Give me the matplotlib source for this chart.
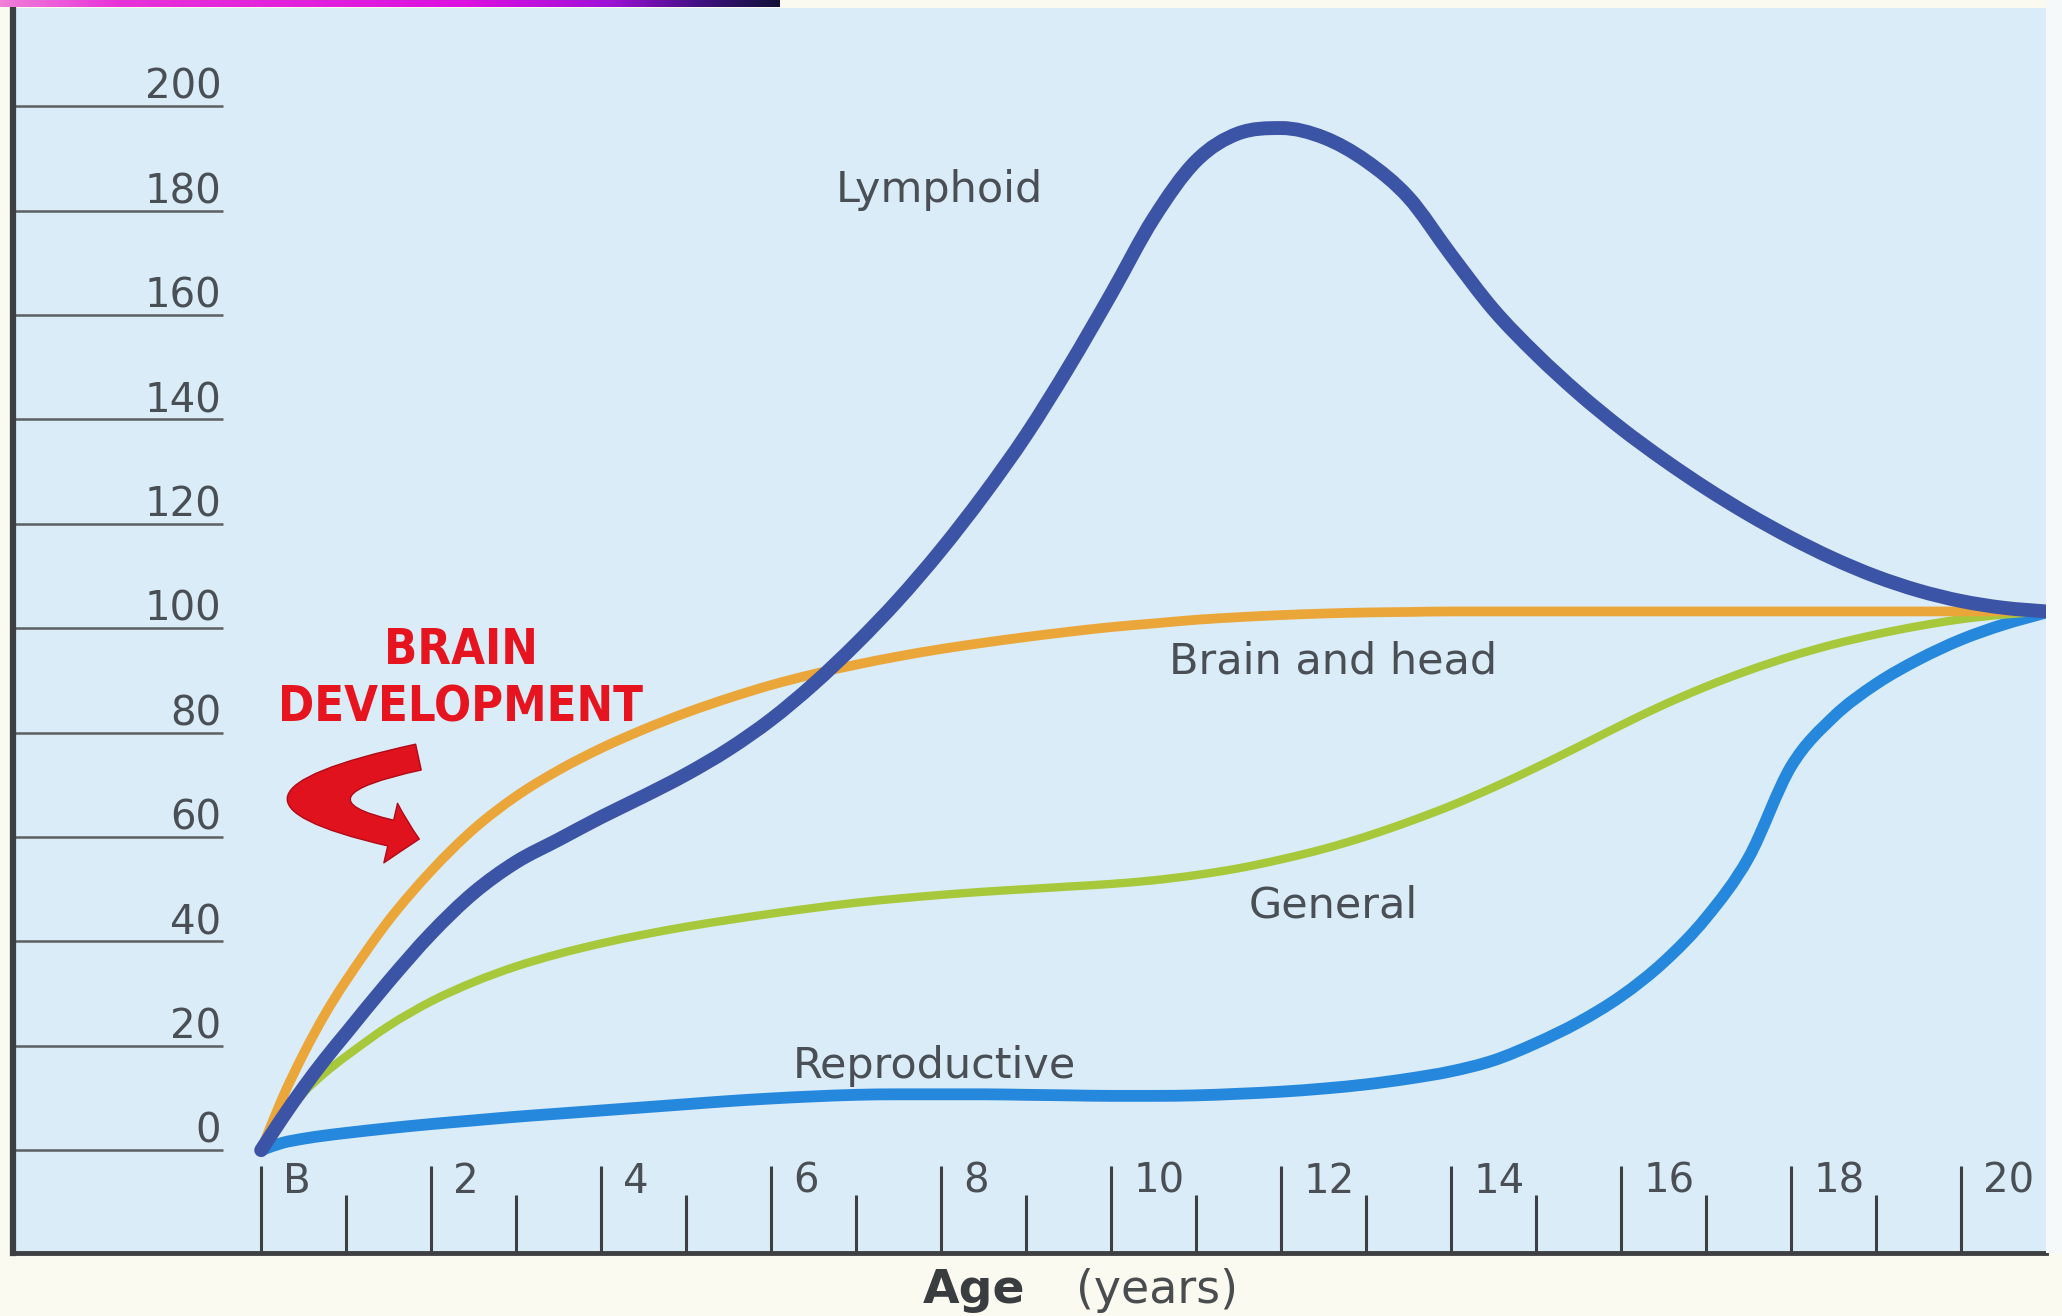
import numpy as np
import matplotlib
matplotlib.use('Agg')
import matplotlib.pyplot as plt
from matplotlib import font_manager
from matplotlib.patches import FancyArrowPatch, ArrowStyle, PathPatch, Rectangle
from matplotlib.path import Path
from matplotlib.colors import LinearSegmentedColormap

ages = [0, 0.25, 0.5, 0.75, 1, 1.5, 2, 2.5, 3, 3.5, 4, 4.5, 5, 5.5, 6, 6.5, 7, 7.5,
        8, 8.5, 9, 9.5, 10, 10.5, 11, 11.5, 12, 12.5, 13, 13.5, 14, 14.5, 15, 15.5,
        16, 16.5, 17, 17.5, 18, 18.5, 19, 19.5, 20, 20.5, 21]

lymphoid = [0, 6.2, 12, 17.4, 22.4, 32.3, 41.5, 49.3, 55.2, 59.5, 63.8, 67.8, 72,
            76.8, 82.5, 89.3, 97, 105.5, 115, 125.5, 137, 150, 164, 178.5, 189.5,
            194.8, 195.8, 194, 189.5, 182.5, 171.5, 161, 152.5, 145, 138.3, 132.3,
            126.8, 121.8, 117.3, 113.3, 109.9, 107.2, 105.2, 103.9, 103.2]

brain_head = [0, 10, 18.5, 26, 32.5, 44, 53.5, 61.5, 67.8, 72.8, 77, 80.6, 83.8,
              86.6, 89.1, 91.2, 93, 94.6, 96, 97.2, 98.3, 99.3, 100.2, 100.9, 101.6,
              102.1, 102.5, 102.8, 103, 103.1, 103.2, 103.2, 103.2, 103.2, 103.2,
              103.2, 103.2, 103.2, 103.2, 103.2, 103.2, 103.2, 103.2, 103.2, 103.2]

general = [0, 5.8, 11, 14.8, 18, 23.8, 28.5, 32.2, 35.2, 37.6, 39.6, 41.3, 42.8,
           44.1, 45.3, 46.4, 47.4, 48.2, 48.9, 49.5, 50, 50.5, 51, 51.7, 52.7, 54,
           55.7, 57.7, 60.1, 62.9, 66, 69.5, 73.3, 77.3, 81.4, 85.3, 88.8, 91.9,
           94.6, 96.9, 98.8, 100.4, 101.7, 102.6, 103.2]

reproductive = [0, 1.4, 2.2, 2.8, 3.3, 4.2, 5, 5.7, 6.4, 7, 7.6, 8.2, 8.8, 9.4, 9.9,
                10.3, 10.6, 10.7, 10.7, 10.7, 10.6, 10.5, 10.4, 10.4, 10.5, 10.8,
                11.2, 11.8, 12.6, 13.7, 15.1, 17.2, 20.5, 24.5, 29.5, 36, 44.5, 56,
                73.5, 83, 89.3, 94, 97.8, 100.7, 103]

y_ticks = [0, 20, 40, 60, 80, 100, 120, 140, 160, 180, 200]
x_major = [0, 2, 4, 6, 8, 10, 12, 14, 16, 18, 20]
x_major_labels = ['B', '2', '4', '6', '8', '10', '12', '14', '16', '18', '20']
x_minor = [1, 3, 5, 7, 9, 11, 13, 15, 17, 19]


def smooth_path(x, y):
    # cubic bezier segments through the read points (clamped central slopes)
    x = np.asarray(x, float)
    y = np.asarray(y, float)
    h = np.diff(x)
    d = np.diff(y) / h
    m = np.zeros_like(x)
    m[0], m[-1] = d[0], d[-1]
    for k in range(1, len(x) - 1):
        if d[k - 1] * d[k] > 0:
            c = (y[k + 1] - y[k - 1]) / (x[k + 1] - x[k - 1])
            lim = 3 * min(abs(d[k - 1]), abs(d[k]))
            m[k] = np.sign(c) * min(abs(c), lim)
    verts = [(x[0], y[0])]
    codes = [Path.MOVETO]
    for k in range(len(x) - 1):
        verts += [(x[k] + h[k] / 3, y[k] + m[k] * h[k] / 3),
                  (x[k + 1] - h[k] / 3, y[k + 1] - m[k + 1] * h[k] / 3),
                  (x[k + 1], y[k + 1])]
        codes += [Path.CURVE4] * 3
    return Path(verts, codes)


W, H = 2062, 1316
fig = plt.figure(figsize=(W / 100, H / 100), dpi=100, facecolor='#fbfaf1')
fig.add_artist(Rectangle((2046 / W, 1 - 1253 / H), 16 / W, 1253 / H,
                         transform=fig.transFigure, facecolor='#f6f9fa',
                         edgecolor='none'))

# plot area in pixels: left 13, right 2046, top 8, bottom 1253
ax = fig.add_axes([13 / W, 1 - 1253 / H, (2046 - 13) / W, (1253 - 8) / H])
ax.set_facecolor('#daecf7')
ax.set_xlim(-2.92, 21.0)
ax.set_ylim(-19.7, 218.8)

axis_col = '#3d3f42'
for s in ['top', 'right']:
    ax.spines[s].set_visible(False)
ax.spines['left'].set_linewidth(4.5)
ax.spines['left'].set_color(axis_col)
ax.spines['bottom'].set_linewidth(3.5)
ax.spines['bottom'].set_color(axis_col)

ax.set_xticks(x_major)
ax.set_xticks(x_minor, minor=True)
ax.set_yticks([])
ax.tick_params(axis='x', which='major', direction='in', length=63, width=2.2,
               color=axis_col, labelbottom=False)
ax.tick_params(axis='x', which='minor', direction='in', length=42, width=2.2,
               color=axis_col, labelbottom=False)

text_col = '#4a4f55'

# short guide lines and labels on the left
ax.hlines(y_ticks, -2.92, -0.45, color='#5b6064', lw=1.8)
for v in y_ticks:
    ax.text(-0.47, v + 1.4, str(v), ha='right', va='baseline', fontsize=29,
            color=text_col)

for x, lab in zip(x_major, x_major_labels):
    ax.text(x + 0.26, -2.2, lab, ha='left', va='top', fontsize=29, color=text_col)

# curves
series = [(reproductive, '#2688dc', 8.5, 3),
          (general, '#a7c83a', 6, 4),
          (brain_head, '#eba63a', 7, 5),
          (lymphoid, '#3c54a6', 10, 6)]
for vals, col, lw, z in series:
    ax.add_patch(PathPatch(smooth_path(ages, vals), facecolor='none', edgecolor=col,
                           lw=lw, capstyle='round', joinstyle='round', zorder=z))

# curve names
lab_kw = dict(ha='center', va='baseline', fontsize=31, color=text_col, zorder=7)
ax.text(7.98, 181.6, 'Lymphoid', **lab_kw)
ax.text(12.61, 91.4, 'Brain and head', **lab_kw)
ax.text(12.61, 44.6, 'General', **lab_kw)
ax.text(7.92, 13.8, 'Reproductive', **lab_kw)

# red callout; pick a narrow bold face when one is installed
red_props = font_manager.FontProperties(family='Open Sans', weight='bold')
for f in font_manager.fontManager.ttflist:
    narrow = ('Narrow' in f.name or 'Condensed' in f.name
              or f.stretch in ('condensed', 'semi-condensed'))
    if narrow and f.weight in (700, 'bold') and f.style == 'normal':
        red_props = font_manager.FontProperties(fname=f.fname)
        break

red = '#e5141f'
t1 = ax.text(2.35, 93.1, 'BRAIN', ha='center', va='baseline',
             fontproperties=red_props, color=red, zorder=8)
t2 = ax.text(2.35, 82.2, 'DEVELOPMENT', ha='center', va='baseline',
             fontproperties=red_props, color=red, zorder=8)
t1.set_fontsize(40)
t2.set_fontsize(40)
fig.canvas.draw()
w = t2.get_window_extent().width
size = min(46, 40 * 365 / w)
t1.set_fontsize(size)
t2.set_fontsize(size)

arrow_path = Path([(1.85, 75.3), (-0.5, 67.0), (1.86, 59.6)],
                  [Path.MOVETO, Path.CURVE3, Path.CURVE3])
arrow = FancyArrowPatch(path=arrow_path,
                        arrowstyle=ArrowStyle.Simple(head_length=21, head_width=44,
                                                     tail_width=19),
                        mutation_scale=1, facecolor='#e0121e', edgecolor='#b00a16',
                        lw=1, zorder=8)
ax.add_patch(arrow)

# axis title
fig.text(1025 / W, 1 - 1303 / H, 'Age', ha='right', va='baseline', fontsize=34,
         fontweight='bold', color='#3a3d40')
fig.text(1076 / W, 1 - 1303 / H, '(years)', ha='left', va='baseline', fontsize=33,
         color='#4a4d50')

# slide decoration bar at the top
bar = fig.add_axes([0, 1 - 7 / H, 780 / W, 7 / H])
bar_cmap = LinearSegmentedColormap.from_list(
    'bar', [(0, '#f080d8'), (0.15, '#e832d8'), (0.6, '#dc10e0'),
            (0.78, '#a010d8'), (0.9, '#401080'), (1, '#101038')])
bar.imshow(np.linspace(0, 1, 256)[None, :], aspect='auto', cmap=bar_cmap)
bar.axis('off')

fig.savefig('out.png', dpi=100, facecolor=fig.get_facecolor())
